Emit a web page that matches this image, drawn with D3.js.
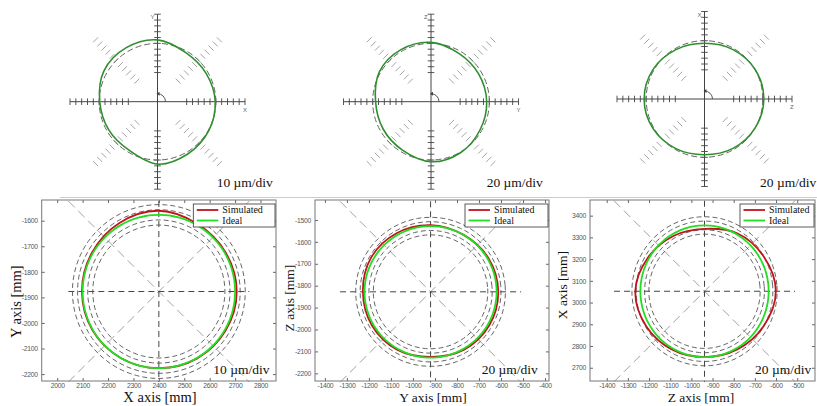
<!DOCTYPE html>
<html>
<head>
<meta charset="utf-8">
<script src="https://d3js.org/d3.v7.min.js"></script>
<style>
  body { margin: 0; background: #fff; }
  svg { display: block; }
  .tick text { font-family: "Liberation Sans", Arial, sans-serif; font-size: 6.8px; fill: #555; letter-spacing: -0.3px; }
  .serif { font-family: "Liberation Serif", "Times New Roman", serif; fill: #111; }
</style>
</head>
<body>
<div id="chart"></div>
<script>
const W = 817, H = 406;

// sample angles, degrees counter-clockwise from the horizontal axis
const angles = [0, 30, 60, 90, 120, 150, 180, 210, 240, 270, 300, 330];

// top row: measured roundness deviation (µm) from the ideal circle
const measXY = [-1, -3.5, -3, 6, 7, 6, -1, -3.5, -3.5, 7, 3.5, 1];
const measYZ = [-9, -11, -9, 3.5, 6, 4.5, -10, -11, -7, 6, 2, -6];
const measZX = [3.5, 1, -4.5, -9, -4.5, 3.5, 7, 3.5, -3.5, -9, -4.5, 0];

// bottom row: simulated path radius offset (plot units) from the ideal path
const simXY = [6.5, 4, 5, 16, 10, 4, 2.6, 2, 0, 0, 2, 4];
const simYZ = [7.5, 4.5, 0, 4.5, 9, 12, 7.5, 7.5, 4.5, -3, 4.5, 7.5];
const simZX = [34, 19, 5, -16, -9, 6, 24, 16, 6, 0, 6, 19];

// tick labels
const ticksXY_x = [2000, 2100, 2200, 2300, 2400, 2500, 2600, 2700, 2800];
const ticksXY_y = [-1600, -1700, -1800, -1900, -2000, -2100, -2200];
const ticksYZ_x = [-1400, -1300, -1200, -1100, -1000, -900, -800, -700, -600, -500, -400];
const ticksYZ_y = [-1500, -1600, -1700, -1800, -1900, -2000, -2100, -2200];
const ticksZX_x = [-1400, -1300, -1200, -1100, -1000, -900, -800, -700, -600, -500];
const ticksZX_y = [3400, 3300, 3200, 3100, 3000, 2900, 2800, 2700];

const legendNames = ["Simulated", "Ideal"];
const ringOffsets = [-40, -20, 20, 40];   // one division = 20 plot units

const rad = Math.PI / 180;
const svg = d3.select("#chart").append("svg")
  .attr("width", W).attr("height", H)
  .attr("viewBox", [0, 0, W, H]);
svg.append("rect").attr("width", W).attr("height", H).attr("fill", "#fff");

// faint seam between the two rows
svg.append("line").attr("x1", 60).attr("x2", W).attr("y1", 197.5).attr("y2", 197.5)
  .attr("stroke", "#ccc").attr("stroke-width", 1);

function drawPolar(cfg) {
  const g = svg.append("g");
  const r = d3.scaleLinear().domain([0, 15]).range([0, 87.5]);   // divisions -> px
  const pt = (a, d) => [cfg.cx + r(d) * Math.cos(a * rad), cfg.cy - r(d) * Math.sin(a * rad)];
  const divs = r.ticks(15).filter(d => d >= 5);

  // diagonal tick rows
  [45, 135, 225, 315].forEach(a => {
    const ux = Math.cos((a + 90) * rad), uy = -Math.sin((a + 90) * rad);
    divs.forEach(k => {
      const [x, y] = pt(a, k);
      g.append("line")
        .attr("x1", x - 3.5 * ux).attr("y1", y - 3.5 * uy)
        .attr("x2", x + 3.5 * ux).attr("y2", y + 3.5 * uy)
        .attr("stroke", "#999").attr("stroke-width", 0.9);
    });
  });

  // main axes
  g.append("line").attr("x1", pt(180, 15)[0]).attr("x2", pt(0, 15)[0])
    .attr("y1", cfg.cy).attr("y2", cfg.cy).attr("stroke", "#444").attr("stroke-width", 1);
  g.append("line").attr("y1", pt(90, 15)[1]).attr("y2", pt(270, 15)[1])
    .attr("x1", cfg.cx).attr("x2", cfg.cx).attr("stroke", "#444").attr("stroke-width", 1);
  [0, 90, 180, 270].forEach(a => {
    const ux = Math.cos((a + 90) * rad), uy = -Math.sin((a + 90) * rad);
    divs.forEach(k => {
      const [x, y] = pt(a, k);
      g.append("line")
        .attr("x1", x - 3.3 * ux).attr("y1", y - 3.3 * uy)
        .attr("x2", x + 3.3 * ux).attr("y2", y + 3.3 * uy)
        .attr("stroke", "#444").attr("stroke-width", 0.9);
    });
  });

  // axis letters
  g.append("text").attr("x", pt(0, 15)[0] - 2).attr("y", cfg.cy + 10)
    .attr("font-family", "Liberation Sans, Arial, sans-serif").attr("font-size", 6).attr("fill", "#666")
    .text(cfg.names[0]);
  g.append("text").attr("x", cfg.cx - 7).attr("y", pt(90, 15)[1] + 5)
    .attr("font-family", "Liberation Sans, Arial, sans-serif").attr("font-size", 6).attr("fill", "#666")
    .text(cfg.names[1]);

  // rotation arrow at the centre
  g.append("path")
    .attr("d", `M${cfg.cx},${cfg.cy - 8} A8,8 0 0 1 ${cfg.cx + 8},${cfg.cy}`)
    .attr("fill", "none").attr("stroke", "#444").attr("stroke-width", 0.9);
  g.append("path")
    .attr("d", `M${cfg.cx - 1},${cfg.cy - 8} l3,-2 l0,4 z`)
    .attr("fill", "#444");

  // ideal dashed circle
  g.append("circle").attr("cx", cfg.cx).attr("cy", cfg.cy).attr("r", r(10))
    .attr("fill", "none").attr("stroke", "#666").attr("stroke-width", 1)
    .attr("stroke-dasharray", "6,3");

  // measured path
  const pts = angles.map((a, i) => pt(a, 10 + cfg.dev[i] / cfg.umPerDiv));
  g.append("path")
    .attr("d", d3.line().curve(d3.curveCatmullRomClosed.alpha(0.5))(pts))
    .attr("fill", "none").attr("stroke", "#2f8f2f").attr("stroke-width", 1.6);

  g.append("text").attr("class", "serif").attr("x", cfg.labelX).attr("y", 187)
    .attr("font-size", 13.5).text(cfg.umPerDiv + " \u00b5m/div");
}

drawPolar({ cx: 157.5, cy: 101.7, dev: measXY, umPerDiv: 10, names: ["X", "Y"], labelX: 216.7 });
drawPolar({ cx: 431, cy: 101.7, dev: measYZ, umPerDiv: 20, names: ["Y", "Z"], labelX: 486.7 });
drawPolar({ cx: 704.5, cy: 99, dev: measZX, umPerDiv: 20, names: ["Z", "X"], labelX: 760 });

function drawCart(cfg) {
  const g = svg.append("g");
  const x = d3.scaleLinear().domain(cfg.xDomain).range([cfg.left, cfg.right]);
  const y = d3.scaleLinear().domain(cfg.yDomain).range([cfg.bottom, cfg.top]);
  const fmt = d => String(d);

  const ax = g.append("g").attr("transform", `translate(0,${cfg.bottom})`)
    .call(d3.axisBottom(x).tickValues(cfg.xTicks).tickSize(-3).tickPadding(2.5).tickFormat(fmt));
  const ay = g.append("g").attr("transform", `translate(${cfg.left},0)`)
    .call(d3.axisLeft(y).tickValues(cfg.yTicks).tickSize(-3).tickPadding(4).tickFormat(fmt));
  const at = g.append("g").attr("transform", `translate(0,${cfg.top})`)
    .call(d3.axisTop(x).tickValues(cfg.xTicks).tickSize(-3).tickFormat(""));
  const ar = g.append("g").attr("transform", `translate(${cfg.right},0)`)
    .call(d3.axisRight(y).tickValues(cfg.yTicks).tickSize(-3).tickFormat(""));
  [ax, ay, at, ar].forEach(a => {
    a.select(".domain").remove();
    a.selectAll(".tick line").attr("stroke", "#666");
  });

  g.append("rect").attr("x", cfg.left).attr("y", cfg.top)
    .attr("width", cfg.right - cfg.left).attr("height", cfg.bottom - cfg.top)
    .attr("fill", "none").attr("stroke", "#777").attr("stroke-width", 1);

  const cx = x(cfg.center[0]), cy = y(cfg.center[1]);
  const ext = 90.5;
  // guide lines through the centre
  [[-1, -1], [-1, 1]].forEach(([sx, sy]) => {
    g.append("line").attr("x1", cx + sx * ext).attr("y1", cy + sy * ext)
      .attr("x2", cx - sx * ext).attr("y2", cy - sy * ext)
      .attr("stroke", "#888").attr("stroke-width", 0.8).attr("stroke-dasharray", "9,5");
  });
  g.append("line").attr("x1", cx - ext).attr("x2", cx + ext).attr("y1", cy).attr("y2", cy)
    .attr("stroke", "#444").attr("stroke-width", 1).attr("stroke-dasharray", "6,4");
  g.append("line").attr("x1", cx).attr("x2", cx).attr("y1", cy - ext).attr("y2", cy + ext)
    .attr("stroke", "#444").attr("stroke-width", 1).attr("stroke-dasharray", "6,4");

  const circle = (rr) => d3.range(0, 360, 5).map(a =>
    [x(cfg.center[0] + rr * Math.cos(a * rad)), y(cfg.center[1] + rr * Math.sin(a * rad))]);
  const closed = d3.line().curve(d3.curveCatmullRomClosed.alpha(0.5));

  ringOffsets.forEach(o => {
    g.append("path").attr("d", closed(circle(cfg.r + o)))
      .attr("fill", "none").attr("stroke", "#555").attr("stroke-width", 0.9)
      .attr("stroke-dasharray", "5,3");
  });

  const simPts = angles.map((a, i) => {
    const rr = cfg.r + cfg.sim[i];
    return [x(cfg.center[0] + rr * Math.cos(a * rad)), y(cfg.center[1] + rr * Math.sin(a * rad))];
  });
  g.append("path").attr("d", closed(simPts))
    .attr("fill", "none").attr("stroke", "#c0141c").attr("stroke-width", 1.8);
  g.append("path").attr("d", closed(circle(cfg.r)))
    .attr("fill", "none").attr("stroke", "#22dd22").attr("stroke-width", 1.8);

  // legend
  const lg = g.append("g");
  lg.append("rect").attr("x", cfg.legend[0]).attr("y", cfg.top + 4)
    .attr("width", cfg.right - 1 - cfg.legend[0]).attr("height", 23)
    .attr("fill", "#fff").attr("stroke", "#333").attr("stroke-width", 0.8);
  ["#c0141c", "#22dd22"].forEach((c, i) => {
    const ly = cfg.top + 10 + i * 10.5;
    lg.append("line").attr("x1", cfg.legend[0] + 3.5).attr("x2", cfg.legend[0] + 25)
      .attr("y1", ly).attr("y2", ly).attr("stroke", c).attr("stroke-width", 1.8);
    lg.append("text").attr("class", "serif").attr("x", cfg.legend[0] + 29).attr("y", ly + 3.3)
      .attr("font-size", 10).text(legendNames[i]);
  });

  g.append("text").attr("class", "serif").attr("x", cfg.divX).attr("y", 373.5)
    .attr("font-size", 13.5).text(cfg.umPerDiv + " \u00b5m/div");

  g.append("text").attr("class", "serif").attr("text-anchor", "middle")
    .attr("x", cfg.xLabel[0]).attr("y", 402).attr("font-size", cfg.labelSize).text(cfg.xName);
  g.append("text").attr("class", "serif").attr("text-anchor", "middle")
    .attr("transform", `translate(${cfg.yLabel[0]},${cfg.yLabel[1]}) rotate(-90)`)
    .attr("font-size", cfg.labelSize).text(cfg.yName);
}

drawCart({
  left: 41.7, right: 276, top: 200, bottom: 381,
  xDomain: [1939, 2861], yDomain: [-2227, -1519],
  xTicks: ticksXY_x, yTicks: ticksXY_y,
  center: [2400, -1877], r: 300, sim: simXY, umPerDiv: 10,
  legend: [193.3], divX: 213.3,
  xName: "X axis [mm]", yName: "Y axis [mm]", labelSize: 14.5,
  xLabel: [160], yLabel: [20.5, 301.7]
});
drawCart({
  left: 315, right: 549, top: 200, bottom: 381,
  xDomain: [-1445, -382], yDomain: [-2235, -1409],
  xTicks: ticksYZ_x, yTicks: ticksYZ_y,
  center: [-920, -1828], r: 300, sim: simYZ, umPerDiv: 20,
  legend: [465], divX: 481.7,
  xName: "Y axis [mm]", yName: "Z axis [mm]", labelSize: 13.5,
  xLabel: [433], yLabel: [294, 298]
});
drawCart({
  left: 590, right: 815, top: 200, bottom: 381,
  xDomain: [-1479, -416], yDomain: [2639, 3472],
  xTicks: ticksZX_x, yTicks: ticksZX_y,
  center: [-938, 3052], r: 303, sim: simZX, umPerDiv: 20,
  legend: [740], divX: 755,
  xName: "Z axis [mm]", yName: "X axis [mm]", labelSize: 13.5,
  xLabel: [701], yLabel: [567, 285]
});
</script>
</body>
</html>
